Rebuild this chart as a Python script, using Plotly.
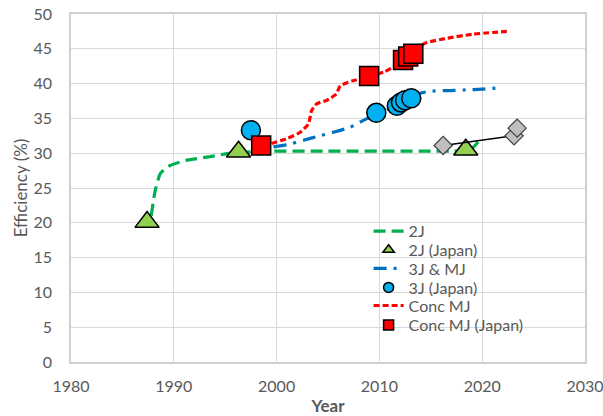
import plotly.graph_objects as go

# --- 2J record-efficiency trend and Japanese 2J results ---
years_2j = [1987.8, 1988.2, 1988.7, 1989.6, 1991.3, 1993.5, 1995.5, 1997.5, 1999.7,
            2005.0, 2010.0, 2015.0, 2017.8, 2018.6, 2019.1, 2019.6]
eff_2j = [21.0, 24.7, 27.1, 28.2, 29.0, 29.5, 30.0, 30.2, 30.3,
          30.3, 30.3, 30.3, 30.3, 30.4, 30.8, 31.6]
years_2j_jp = [1987.4, 1996.3, 2018.4]
eff_2j_jp = [20.1, 30.2, 30.5]

# --- 3J & multi-junction trend and Japanese 3J results ---
years_3j = [1999.7, 2001.0, 2002.7, 2004.2, 2005.5, 2007.1, 2008.3, 2009.7, 2011.5,
            2013.0, 2014.9, 2016.8, 2018.4, 2020.0, 2021.8]
eff_3j = [30.9, 31.2, 31.9, 32.5, 33.0, 33.7, 34.6, 35.6, 36.8,
          38.2, 38.9, 39.0, 39.1, 39.2, 39.4]
years_3j_jp = [1997.5, 2009.7, 2011.7, 2012.1, 2012.5, 2013.1]
eff_3j_jp = [33.3, 35.8, 36.8, 37.3, 37.6, 37.9]

# --- Concentrator MJ trend and Japanese results ---
years_conc = [1999.5, 2001.0, 2002.3, 2003.1, 2003.4, 2003.9, 2004.9, 2005.8, 2006.2,
              2007.4, 2009.0, 2010.5, 2011.6, 2012.5, 2013.5, 2014.6, 2016.5, 2019.1, 2022.4]
eff_conc = [31.4, 32.1, 33.0, 34.2, 36.1, 37.1, 37.6, 38.5, 39.7,
            40.4, 41.0, 41.7, 42.6, 43.6, 45.0, 45.9, 46.5, 47.1, 47.5]
years_conc_jp = [1998.5, 2009.0, 2012.3, 2012.8, 2013.3]
eff_conc_jp = [31.1, 41.1, 43.4, 43.9, 44.3]

# --- Additional connected results (no legend entry) ---
years_other = [2016.2, 2023.1, 2023.4]
eff_other = [31.1, 32.5, 33.6]

x_ticks = [1980, 1990, 2000, 2010, 2020, 2030]
y_ticks = [0, 5, 10, 15, 20, 25, 30, 35, 40, 45, 50]

FONT = "Lato, 'Liberation Sans', sans-serif"
TXT = "#595959"
MK_LINE = dict(color="black", width=1.5)

series_lines = [
    ("2J", years_2j, eff_2j, "#00B050", "12px,6px"),
    ("3J & MJ", years_3j, eff_3j, "#0070C0", "13px,7px,3px,7px"),
    ("Conc MJ", years_conc, eff_conc, "#FF0000", "6px,3px"),
]
series_marks = [
    ("2J (Japan)", years_2j_jp, eff_2j_jp, "triangle-up", 21, 10, "#92D050"),
    ("3J (Japan)", years_3j_jp, eff_3j_jp, "circle", 19, 10, "#00B0F0"),
    ("Conc MJ (Japan)", years_conc_jp, eff_conc_jp, "square", 19, 10, "#FF0000"),
]

# one single-entry legend per row so the rows can sit tightly together
legend_ids = ["legend", "legend2", "legend3", "legend4", "legend5", "legend6"]
legend_rows_y = [0.376, 0.322, 0.269, 0.214, 0.162, 0.106]

fig = go.Figure()

row = 0
for (lname, lx, ly, lcol, ldash), (mname, mx, my, sym, msize, lgsize, mcol) in zip(series_lines, series_marks):
    fig.add_trace(go.Scatter(
        x=lx, y=ly, mode="lines", name=lname, legend=legend_ids[row],
        line=dict(color=lcol, width=3.2, dash=ldash, shape="spline", smoothing=0.5)))
    # data markers (full size on the plot)
    fig.add_trace(go.Scatter(
        x=mx, y=my, mode="markers", name=mname, showlegend=False, legendgroup=mname,
        marker=dict(symbol=sym, size=msize, color=mcol, line=MK_LINE)))
    # legend key drawn with a smaller symbol
    fig.add_trace(go.Scatter(
        x=[None], y=[None], mode="markers", name=mname, legendgroup=mname,
        legend=legend_ids[row + 1],
        marker=dict(symbol=sym, size=lgsize, color=mcol, line=MK_LINE)))
    row += 2

fig.add_trace(go.Scatter(
    x=years_other, y=eff_other, mode="lines+markers", showlegend=False,
    line=dict(color="black", width=1.5),
    marker=dict(symbol="diamond", size=14, color="#BFBFBF", line=dict(color="#404040", width=1.2))))

axis_common = dict(
    showgrid=True, gridcolor="#D9D9D9", gridwidth=1.3,
    showline=True, linecolor="#D0D0D0", linewidth=1.5, mirror=True,
    zeroline=False, ticks="", automargin=False, ticklabeloverflow="allow",
    tickfont=dict(family=FONT, size=16, color=TXT),
)

fig.update_xaxes(range=[1980, 2030], tickvals=x_ticks, ticklabelstandoff=9,
                 title=dict(text="<b>Year</b>", font=dict(family=FONT, size=17, color=TXT), standoff=8),
                 **axis_common)
fig.update_yaxes(range=[0, 50], tickvals=y_ticks, ticklabelstandoff=14,
                 title=dict(text="Efficiency (%)", font=dict(family=FONT, size=17, color=TXT), standoff=2),
                 **axis_common)

fig.update_layout(
    width=603, height=416,
    margin=dict(l=71, r=18, t=14, b=54),
    paper_bgcolor="white", plot_bgcolor="white",
    font=dict(family=FONT, size=16, color=TXT),
    showlegend=True,
)
for lid, ly in zip(legend_ids, legend_rows_y):
    fig.layout[lid] = dict(
        x=0.579, y=ly, xanchor="left", yanchor="middle",
        bgcolor="rgba(0,0,0,0)", borderwidth=0,
        font=dict(family=FONT, size=16, color=TXT),
    )

fig.write_html("out.html")
